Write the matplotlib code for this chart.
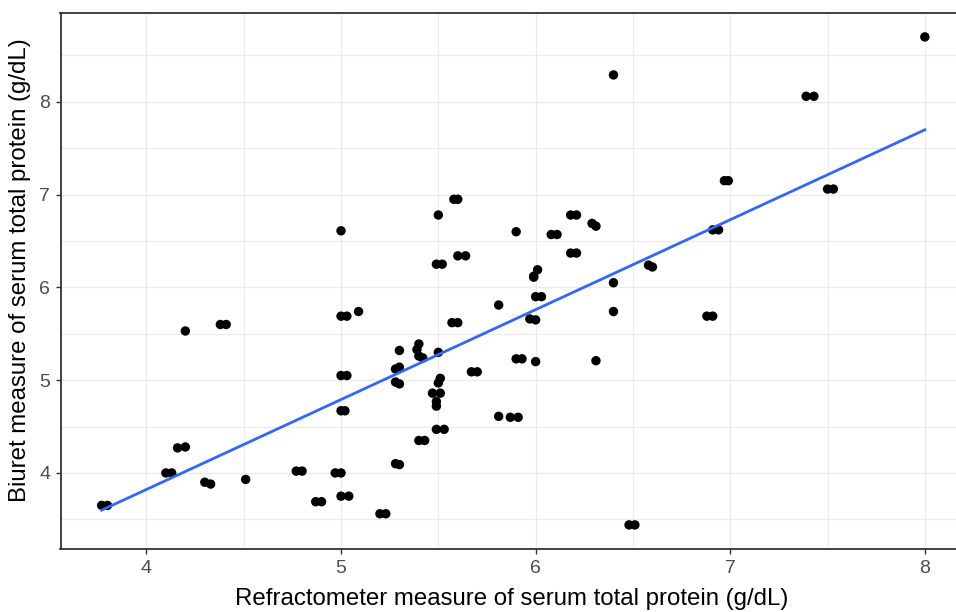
import numpy as np
import matplotlib
matplotlib.use("Agg")
import matplotlib.pyplot as plt
from matplotlib.ticker import MultipleLocator

plt.rcParams['font.family'] = ['Liberation Sans', 'DejaVu Sans']

# Refractometer (x) and Biuret (y) measurements, g/dL (each visible dot)
refract = [5.00, 6.40, 5.58, 5.60, 5.50, 5.90, 6.08, 6.11, 6.18, 6.21, 6.29, 6.31,
           6.18, 6.21, 5.60, 5.64, 5.49, 5.52, 6.01, 5.99, 6.58, 6.60, 6.40, 8.00,
           7.39, 7.43, 6.97, 6.99, 7.50, 7.53, 6.91, 6.94, 3.77, 3.80, 4.10, 4.13,
           4.16, 4.20, 4.20, 4.38, 4.41, 4.30, 4.33, 4.51, 4.77, 4.80, 4.87, 4.90,
           4.97, 5.00, 5.00, 5.04, 5.00, 5.03, 5.09, 5.00, 5.03, 5.00, 5.02, 5.20,
           5.23, 5.28, 5.30, 5.40, 5.43, 5.49, 5.53, 5.30, 5.28, 5.30, 5.28, 5.30,
           5.40, 5.39, 5.40, 5.42, 5.50, 5.51, 5.50, 5.47, 5.51, 5.49, 5.49, 5.57,
           5.60, 5.67, 5.70, 5.81, 5.81, 5.87, 5.91, 5.90, 5.93, 6.00, 5.99, 6.00,
           6.03, 5.97, 6.00, 6.40, 6.31, 6.48, 6.51, 6.88, 6.91]
biuret = [6.61, 8.29, 6.95, 6.95, 6.78, 6.60, 6.57, 6.57, 6.78, 6.78, 6.69, 6.66,
          6.37, 6.37, 6.34, 6.34, 6.25, 6.25, 6.19, 6.12, 6.24, 6.22, 6.05, 8.70,
          8.06, 8.06, 7.15, 7.15, 7.06, 7.06, 6.62, 6.62, 3.65, 3.65, 4.00, 4.00,
          4.27, 4.28, 5.53, 5.60, 5.60, 3.90, 3.88, 3.93, 4.02, 4.02, 3.69, 3.69,
          4.00, 4.00, 3.75, 3.75, 5.69, 5.69, 5.74, 5.05, 5.05, 4.67, 4.67, 3.56,
          3.56, 4.10, 4.09, 4.35, 4.35, 4.47, 4.47, 5.32, 5.12, 5.14, 4.98, 4.96,
          5.39, 5.33, 5.26, 5.24, 5.30, 5.02, 4.97, 4.86, 4.86, 4.77, 4.72, 5.62,
          5.62, 5.09, 5.09, 5.81, 4.61, 4.60, 4.60, 5.23, 5.23, 5.20, 6.11, 5.90,
          5.90, 5.66, 5.65, 5.74, 5.21, 3.44, 3.44, 5.69, 5.69]

x = np.array(refract)
y = np.array(biuret)

W, H = 956, 612
fig = plt.figure(figsize=(W / 100, H / 100), dpi=100)
left_px, right_px, top_px, bot_px = 60.5, 966, 12.5, 549.3
ax_w_px = right_px - left_px
ax_h_px = bot_px - top_px
ax = fig.add_axes([left_px / W, (H - bot_px) / H, ax_w_px / W, ax_h_px / H])

xr = x.max() - x.min()
yr = y.max() - y.min()
ax.set_xlim(x.min() - 0.05 * xr, x.max() + 0.05 * xr)
ax.set_ylim(y.min() - 0.05 * yr, y.max() + 0.05 * yr)

ax.xaxis.set_major_locator(MultipleLocator(1))
ax.xaxis.set_minor_locator(MultipleLocator(0.5))
ax.yaxis.set_major_locator(MultipleLocator(1))
ax.yaxis.set_minor_locator(MultipleLocator(0.5))

ax.grid(which='major', color='#EBEBEB', linewidth=1.0, zorder=0)
ax.grid(which='minor', color='#EBEBEB', linewidth=0.8, zorder=0)
ax.set_axisbelow(True)
ax.tick_params(which='minor', length=0)
ax.tick_params(which='major', length=3.5, width=1.0, color='#333333',
               labelsize=14, labelcolor='#4D4D4D', pad=4)

for s in ax.spines.values():
    s.set_color('#333333')
    s.set_linewidth(1.3)

ax.scatter(x, y, s=46, color='black', edgecolors='none', zorder=3)

coef = np.polyfit(x, y, 1)
xs = np.linspace(x.min(), x.max(), 80)
ax.plot(xs, np.polyval(coef, xs), color='#3366FF', linewidth=2.0, zorder=4)

ax.set_xlabel('Refractometer measure of serum total protein (g/dL)', fontsize=17.3,
              color='black')
ax.set_ylabel('Biuret measure of serum total protein (g/dL)', fontsize=17.3,
              color='black')
ax.xaxis.label.set_va('center')
ax.yaxis.label.set_va('center')
ax.xaxis.set_label_coords((512 - left_px) / ax_w_px, -(599 - bot_px) / ax_h_px)
ax.yaxis.set_label_coords(-(left_px - 20) / ax_w_px, (bot_px - 270) / ax_h_px)

fig.savefig('out.png', dpi=100)
